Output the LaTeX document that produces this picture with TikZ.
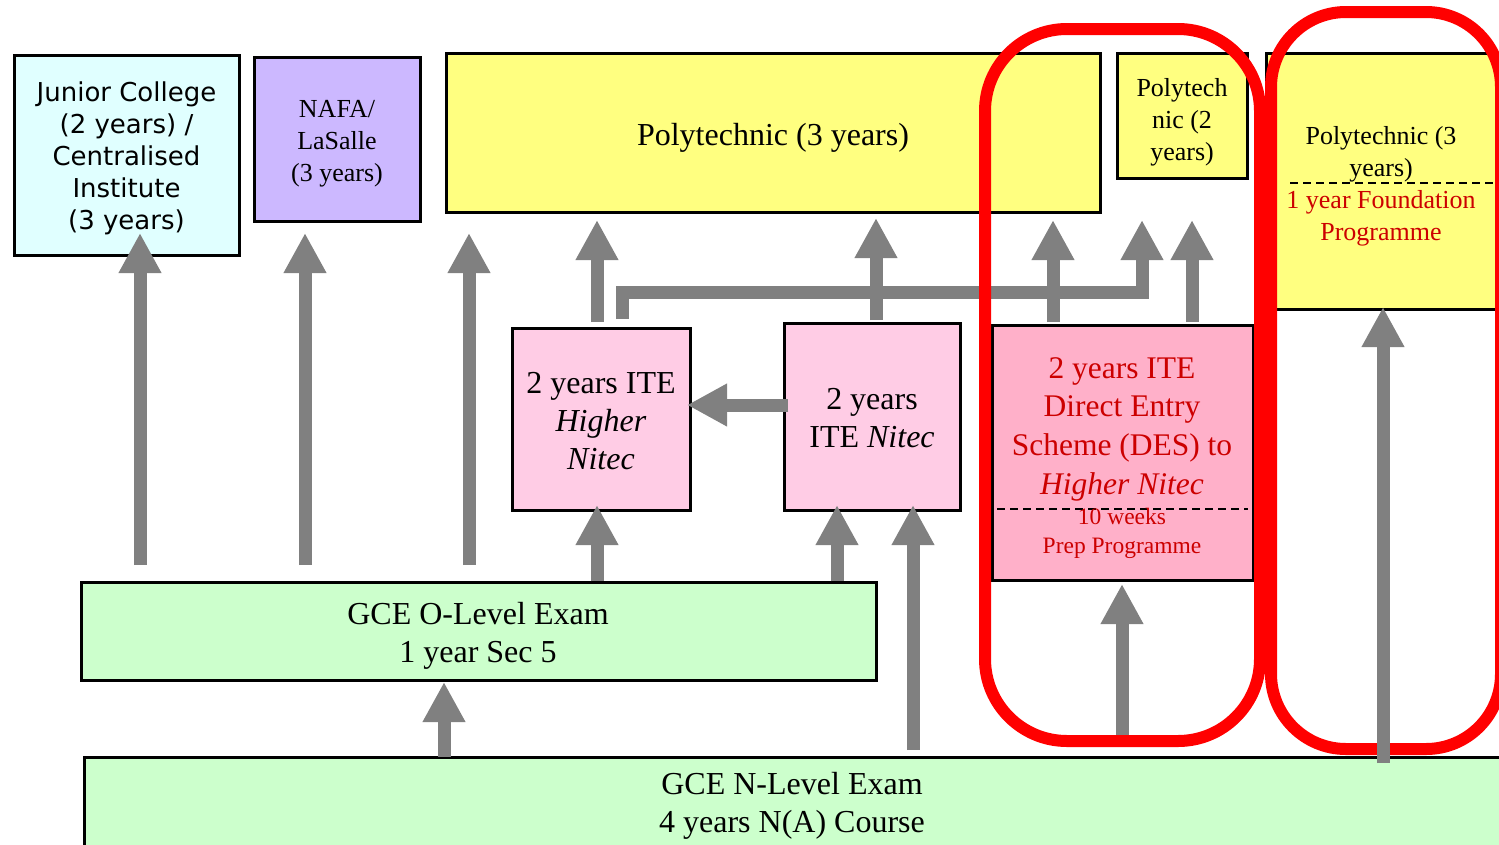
\documentclass[tikz,border=0pt]{standalone}
\usepackage{fontspec}
\setmainfont{Liberation Serif}
\newfontfamily\verdfont{DejaVu Sans}
\usetikzlibrary{arrows.meta}
\definecolor{jcfill}{HTML}{E0FFFF}
\definecolor{nafafill}{HTML}{CCB8FF}
\definecolor{polyfill}{HTML}{FFFF80}
\definecolor{itefill}{HTML}{FFCCE5}
\definecolor{desfill}{HTML}{FFB0C9}
\definecolor{gcefill}{HTML}{CCFFCC}
\definecolor{redtext}{HTML}{CC0000}
\definecolor{ringred}{HTML}{FF0000}
\definecolor{arrowgray}{HTML}{808080}
\begin{document}
\begin{tikzpicture}[x=1pt,y=-1pt,
  box/.style={draw=black, line width=3pt, rectangle, inner sep=0pt},
  bigtxt/.style={font=\fontsize{32}{38}\selectfont},
  midtxt/.style={font=\fontsize{26}{32}\selectfont},
  smalltxt/.style={font=\fontsize{23.5}{29}\selectfont},
  plain/.style={inner sep=0pt, align=center},
  garrow/.style={draw=arrowgray, line width=13pt, line cap=butt, line join=miter,
    -{Triangle[length=40pt,width=40pt]}},
  ring/.style={draw=ringred, line width=12pt},
  divider/.style={draw=black, line width=2pt, dash pattern=on 8pt off 5pt}
]
\useasboundingbox (0,0) rectangle (1499,844);
\clip (0,0) rectangle (1499,844);

% boxes
\node[box, fill=jcfill, minimum width=225pt, minimum height=200pt] (jc) at (126.5,155) {};
\node[plain, font=\verdfont\fontsize{26}{32}\selectfont] (jct) at (126.5,158.5)
  {Junior College\\(2 years) /\\Centralised\\Institute\\(3 years)};
\node[box, fill=nafafill, minimum width=166pt, minimum height=164pt] (nafa) at (337,139) {};
\node[plain, midtxt] (nafat) at (337,144) {NAFA/\\LaSalle\\(3 years)};
\node[box, fill=polyfill, minimum width=654pt, minimum height=159pt] (poly3) at (773,132.5) {};
\node[plain, bigtxt] (poly3t) at (773,137.5) {Polytechnic (3 years)};
\node[box, fill=polyfill, minimum width=130pt, minimum height=125pt] (poly2) at (1182,115.5) {};
\node[plain, midtxt] (poly2t) at (1182,122.5) {Polytech\\nic (2\\years)};
\node[box, fill=polyfill, minimum width=254pt, minimum height=256pt] (polyR) at (1393,181) {};
\node[plain, midtxt] (polyRt) at (1381,154) {Polytechnic (3\\years)};
\node[plain, midtxt, text=redtext] (polyRf) at (1381,218) {1 year Foundation\\Programme};
\draw[divider] (1290,183) -- (1499,183);

\node[box, fill=itefill, minimum width=178pt, minimum height=182pt] (ite1) at (601,419) {};
\node[plain, bigtxt] (ite1t) at (601,421) {2 years ITE\\\textit{Higher}\\\textit{Nitec}};
\node[box, fill=itefill, minimum width=176pt, minimum height=187pt] (ite2) at (872,416.5) {};
\node[plain, bigtxt] (ite2t) at (872,418.5) {2 years\\ITE \textit{Nitec}};

\node[box, fill=desfill, minimum width=261pt, minimum height=255pt] (des) at (1122.5,452.5) {};
\node[plain, text=redtext, font=\fontsize{31.5}{38.7}\selectfont] (dest) at (1122,429)
  {2 years ITE\\Direct Entry\\Scheme (DES) to\\\textit{Higher Nitec}};
\draw[divider] (997,509) -- (1248,509);
\node[plain, smalltxt, text=redtext] (desp) at (1122,533.5) {10 weeks\\Prep Programme};

\node[box, fill=gcefill, minimum width=795pt, minimum height=98pt] (ol) at (478.5,631) {};
\node[plain, bigtxt] (olt) at (478,636) {GCE O-Level Exam\\1 year Sec 5};
\node[box, fill=gcefill, minimum width=1446pt, minimum height=143pt] (nl) at (807,828.5) {};
\node[plain, bigtxt] (nlt) at (792,805.5) {GCE N-Level Exam\\4 years N(A) Course};

% arrow end points
\coordinate (a1s) at (140,565);  \coordinate (a1e) at (140,233);
\coordinate (a2s) at (305,565);  \coordinate (a2e) at (305,233);
\coordinate (a3s) at (469,565);  \coordinate (a3e) at (469,233);
\coordinate (a4s) at (597,322);  \coordinate (a4e) at (597,220);
\coordinate (a5s) at (876,320);  \coordinate (a5e) at (876,218);
\coordinate (a6s) at (1053,322); \coordinate (a6e) at (1053,220);
\coordinate (a7s) at (622,319);  \coordinate (a7a) at (622,292);
\coordinate (a7b) at (1142,292); \coordinate (a7e) at (1142,220);
\coordinate (a8s) at (1192,322); \coordinate (a8e) at (1192,220);
\coordinate (a9s) at (597,581);  \coordinate (a9e) at (597,505);
\coordinate (a10s) at (837,581); \coordinate (a10e) at (837,505);
\coordinate (a11s) at (913,750); \coordinate (a11e) at (913,505);
\coordinate (a12s) at (444,757); \coordinate (a12e) at (444,682);
\coordinate (a13s) at (1122,737); \coordinate (a13e) at (1122,584);
\coordinate (a14s) at (1383,763); \coordinate (a14e) at (1383,307);
\coordinate (hs) at (788,405);   \coordinate (he) at (687,405);

\draw[garrow] (a1s) -- (a1e);
\draw[garrow] (a2s) -- (a2e);
\draw[garrow] (a3s) -- (a3e);
\draw[garrow] (a4s) -- (a4e);
\draw[garrow] (a7s) -- (a7a) -- (a7b) -- (a7e);
\draw[garrow] (a5s) -- (a5e);
\draw[garrow] (a6s) -- (a6e);
\draw[garrow] (a8s) -- (a8e);
\draw[garrow] (a9s) -- (a9e);
\draw[garrow] (a10s) -- (a10e);
\draw[garrow] (a11s) -- (a11e);
\draw[garrow] (a12s) -- (a12e);
\draw[garrow] (a13s) -- (a13e);
\draw[garrow] (hs) -- (he);

% red rings
\draw[ring, rounded corners=82pt] (985,29) rectangle (1260,741);
\draw[ring, rounded corners=75pt] (1271,12) rectangle (1501,749);

\draw[garrow] (a14s) -- (a14e);
\end{tikzpicture}
\end{document}
